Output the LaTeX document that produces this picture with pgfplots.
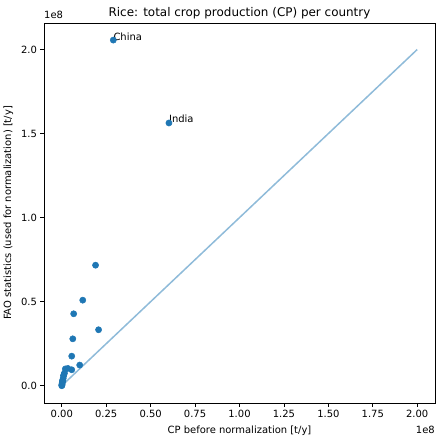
\documentclass[border=0pt]{standalone}
\usepackage{pgfplots}
\pgfplotsset{compat=1.18}
\usepackage{fontspec}
\setmainfont{DejaVu Sans}
\definecolor{tabblue}{HTML}{1F77B4}
\begin{document}
\begin{tikzpicture}
\useasboundingbox (-44bp,-38bp) rectangle (397bp,403bp);
\begin{axis}[
  at={(0,0)}, anchor=south west,
  scale only axis, width=391bp, height=380bp,
  xmin=-0.1, xmax=2.1, ymin=-0.1027, ymax=2.1577,
  xtick={0,0.25,...,2.0}, ytick={0,0.5,...,2.0},
  xticklabel style={/pgf/number format/.cd,fixed,fixed zerofill,precision=2},
  yticklabel style={/pgf/number format/.cd,fixed,fixed zerofill,precision=1},
  /pgf/number format/assume math mode=true,
  scaled ticks=false,
  tick align=outside, tick pos=left,
  major tick length=3.5bp,
  tick style={black, line width=0.8bp},
  axis line style={line width=0.8bp},
  ticklabel style={font=\fontsize{10}{12}\selectfont},
  clip=false,
]
\addplot[tabblue, opacity=0.5, line width=1.5bp] coordinates {(0,0) (2,2)};
\addplot[only marks, mark=*, mark size=3.1bp, color=tabblue, mark options={draw=tabblue, fill=tabblue, line width=0.5bp}] coordinates {
(0.29,2.056) (0.603,1.563) (0.19,0.717) (0.118,0.509) (0.067,0.428)
(0.207,0.333) (0.062,0.279) (0.056,0.176) (0.101,0.123) (0.034,0.103)
(0.056,0.095) (0.02,0.10) (0.01,0.06) (0.015,0.075) (0.012,0.065)
(0.008,0.045) (0.005,0.03) (0.003,0.02) (0.001,0.008) (0.0,0.0)
(0.002,0.012) (0.006,0.035) (0.004,0.025) (0.001,0.003)
};
\node[anchor=base west, inner sep=0, font=\fontsize{10}{12}\selectfont] at (axis cs:0.29,2.056) {China};
\node[anchor=base west, inner sep=0, font=\fontsize{10}{12}\selectfont] at (axis cs:0.603,1.563) {India};
\end{axis}
\node[anchor=base, inner sep=0, font=\fontsize{12}{14}\selectfont] at (195.5bp,386bp) {Rice: total crop production (CP) per country};
\node[anchor=base, inner sep=0, font=\fontsize{10}{12}\selectfont] at (195.5bp,-30.5bp) {CP before normalization [t/y]};
\node[anchor=base east, inner sep=0, font=\fontsize{10}{12}\selectfont] at (391bp,-30.5bp) {1e8};
\node[anchor=base west, inner sep=0, font=\fontsize{10}{12}\selectfont] at (0bp,384.5bp) {1e8};
\node[rotate=90, anchor=base, inner sep=0, font=\fontsize{10}{12}\selectfont] at (-33bp,190bp) {FAO statistics (used for normalization) [t/y]};
\end{tikzpicture}
\end{document}
